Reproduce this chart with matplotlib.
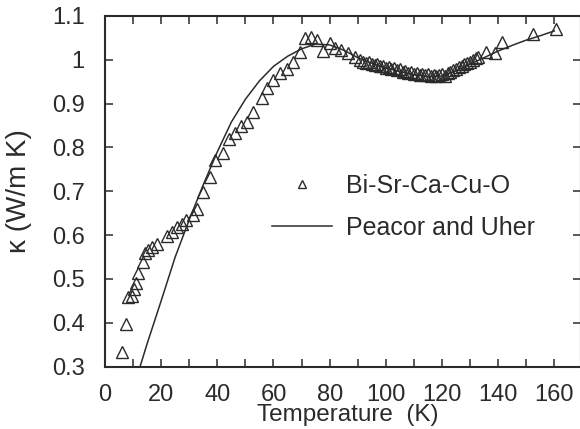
import matplotlib
matplotlib.use("Agg")
import matplotlib.pyplot as plt
from matplotlib.lines import Line2D

# Measured data: Bi-Sr-Ca-Cu-O (triangles)
temp_data = [5.9, 7.5, 8.3, 9.5, 10.5, 11.0, 11.9, 13.4, 14.2, 15.4, 16.6, 18.4,
             22.0, 23.7, 25.5, 27.3, 29.0, 31.4, 32.6, 34.8, 37.4, 39.1, 41.9,
             44.2, 46.3, 48.6, 50.4, 52.8, 55.8, 57.8, 59.9, 62.3, 64.7, 67.0,
             69.4, 71.2, 73.4, 75.5, 77.7, 80.0, 81.9, 84.2, 86.6, 89.0, 90.7,
             92.0, 93.0, 94.0, 95.0, 96.0, 97.0, 98.0, 99.0, 100.0, 101.0, 102.0,
             103.0, 104.0, 105.0, 106.0, 107.0, 108.0, 109.0, 110.0, 111.0, 112.0,
             113.0, 114.0, 115.0, 116.0, 117.0, 118.0, 119.0, 120.0, 121.0, 122.0,
             123.0, 124.0, 125.0, 126.0, 127.0, 128.0, 129.0, 130.0, 131.0, 132.0,
             133.0, 135.8, 138.8, 141.2, 152.4, 160.7]
kappa_data = [0.333, 0.398, 0.458, 0.462, 0.478, 0.490, 0.513, 0.538, 0.558, 0.565, 0.573, 0.580,
              0.599, 0.607, 0.618, 0.626, 0.634, 0.645, 0.660, 0.698, 0.733, 0.771, 0.788,
              0.820, 0.833, 0.849, 0.858, 0.881, 0.912, 0.935, 0.954, 0.969, 0.980, 0.996,
              1.018, 1.049, 1.053, 1.045, 1.020, 1.038, 1.026, 1.022, 1.015, 1.007, 0.999,
              0.996, 0.992, 0.995, 0.990, 0.988, 0.991, 0.985, 0.987, 0.982, 0.984, 0.979,
              0.981, 0.976, 0.978, 0.973, 0.975, 0.970, 0.972, 0.968, 0.970, 0.966,
              0.968, 0.965, 0.967, 0.963, 0.966, 0.962, 0.965, 0.967, 0.964, 0.970,
              0.973, 0.976, 0.979, 0.983, 0.986, 0.990, 0.993, 0.996, 0.999, 1.003,
              1.006, 1.018, 1.015, 1.041, 1.058, 1.070]

# Model curve: Peacor and Uher
temp_model = [12.5, 15, 20, 25, 30, 35, 40, 45, 50, 55, 60, 65, 70, 75, 80, 85,
              90, 95, 100, 105, 110, 115, 120, 125, 130, 135, 140, 145, 150, 155, 160]
kappa_model = [0.300, 0.352, 0.450, 0.550, 0.635, 0.715, 0.790, 0.858, 0.910, 0.952,
               0.985, 1.008, 1.025, 1.036, 1.034, 1.022, 1.005, 0.992, 0.982, 0.973,
               0.966, 0.962, 0.963, 0.975, 0.990, 1.005, 1.020, 1.033, 1.045, 1.055, 1.066]

x_ticks = [0, 20, 40, 60, 80, 100, 120, 140, 160]
y_ticks = [0.3, 0.4, 0.5, 0.6, 0.7, 0.8, 0.9, 1.0, 1.1]
y_tick_labels = ["0.3", "0.4", "0.5", "0.6", "0.7", "0.8", "0.9", "1", "1.1"]

INK = "#2b2b2b"
plt.rcParams['font.family'] = ['Liberation Sans', 'DejaVu Sans']

fig = plt.figure(figsize=(5.8, 4.29), dpi=100)
ax = fig.add_axes([105 / 580, 62.5 / 429, 476 / 580, 350.5 / 429])

ax.plot(temp_model, kappa_model, color=INK, lw=1.1)
ax.plot(temp_data, kappa_data, linestyle='none', marker='^', markersize=8,
        markerfacecolor='none', markeredgecolor=INK, markeredgewidth=1.0)

ax.set_xlim(0, 169.5)
ax.set_ylim(0.3, 1.1)
ax.set_xticks(x_ticks)
ax.set_xticks(list(range(10, 170, 20)), minor=True)
ax.set_yticks(y_ticks)
ax.set_yticklabels(y_tick_labels)

ax.tick_params(which='both', direction='in', top=True, right=True,
               length=6, width=1.1, color=INK, labelcolor=INK, labelsize=17)
ax.tick_params(axis='y', pad=14.5)
ax.tick_params(axis='x', pad=12.5)
for s in ax.spines.values():
    s.set_linewidth(1.5)
    s.set_color(INK)

ax.set_xlabel("Temperature  (K)", fontsize=17.5, color=INK, va='center')
ax.xaxis.set_label_coords(0.51, -0.138)
ax.set_ylabel("κ (W/m K)", fontsize=20, color=INK, va='center')
ax.yaxis.set_label_coords(-0.18, 0.5)

handles = [Line2D([], [], linestyle='none', marker='^', markersize=5.5,
                  markerfacecolor='none', markeredgecolor=INK, markeredgewidth=1.0),
           Line2D([], [], color=INK, lw=1.1)]
leg = ax.legend(handles, ["Bi-Sr-Ca-Cu-O", "Peacor and Uher"], frameon=False,
                loc='upper left', bbox_to_anchor=(272 / 580, (429 - 174) / 429),
                bbox_transform=fig.transFigure, fontsize=18, handlelength=2.4,
                handletextpad=0.55, labelspacing=0.72, borderpad=0, borderaxespad=0)
for t in leg.get_texts():
    t.set_color(INK)

fig.savefig("out.png", dpi=100)
